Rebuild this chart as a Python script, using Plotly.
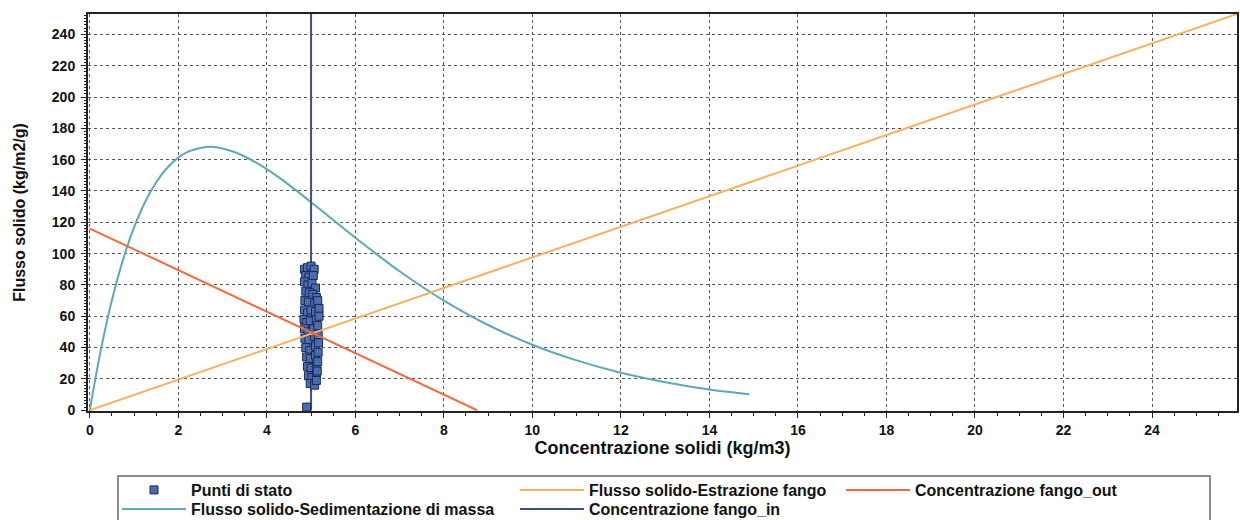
import plotly.graph_objects as go

# ---- data ----
state_c = [4.85, 4.92, 5.00, 5.07, 4.88, 4.95, 5.05, 4.85, 4.93, 5.02, 5.10, 4.88, 4.96, 5.04,
           5.12, 4.86, 4.94, 5.08, 5.15, 4.85, 4.92, 5.00, 5.10, 5.18, 4.84, 4.90, 4.98, 5.12,
           5.18, 4.85, 4.93, 5.06, 5.15, 4.86, 4.95, 5.08, 5.16, 4.88, 4.97, 5.10, 5.17, 4.90,
           4.98, 5.10, 5.16, 4.92, 5.00, 5.12, 5.15, 4.94, 5.02, 5.12, 5.14, 4.98, 5.08, 5.12, 4.90]
state_g = [90, 91, 92, 90, 86, 85, 86, 82, 80, 81, 78, 76, 75, 74,
           72, 70, 69, 68, 70, 64, 62, 64, 63, 65, 58, 56, 57, 58,
           60, 52, 50, 52, 54, 46, 45, 47, 48, 40, 38, 41, 43, 34,
           33, 35, 37, 28, 27, 29, 31, 22, 21, 23, 25, 17, 16, 19, 2]

sed_c = [0, 0.25, 0.5, 0.75, 1.0, 1.25, 1.5, 1.75, 2.0, 2.25, 2.5, 2.75, 3.0, 3.25, 3.5, 4.0,
         4.5, 5.0, 5.5, 6.0, 6.5, 7.0, 7.5, 8.0, 9.0, 10.0, 11.0, 12.0, 13.0, 14.0, 14.9]
sed_g = [0, 38.5, 70.2, 96.0, 116.7, 133.0, 145.5, 154.8, 161.3, 165.4, 167.5, 168.2, 167.1,
         165.0, 162.0, 153.9, 143.9, 132.8, 121.5, 110.1, 99.2, 88.7, 79.0, 70.0, 54.4, 41.8,
         31.8, 23.9, 17.9, 13.3, 10.2]

estr_c = [0, 25.92]
estr_g = [0, 253]

out_c = [0, 8.75]
out_g = [116, 0]

in_c = [5.0, 5.0]
in_g = [0, 253]

x_ticks = [0, 2, 4, 6, 8, 10, 12, 14, 16, 18, 20, 22, 24]
y_ticks = [0, 20, 40, 60, 80, 100, 120, 140, 160, 180, 200, 220, 240]

FONT = "Liberation Sans, Arial, sans-serif"

# plot area in pixels
L, R, T, B = 88, 1237, 14, 411
PW, PH = R - L, B - T


def px(xp):
    return (xp - L) / PW


def py(yp):
    return (B - yp) / PH


fig = go.Figure()
fig.add_trace(go.Scatter(x=sed_c, y=sed_g, mode="lines", name="Flusso solido-Sedimentazione di massa",
                         line=dict(color="#5BAAB8", width=2, shape="spline", smoothing=0.8),
                         legend="legend4"))
fig.add_trace(go.Scatter(x=in_c, y=in_g, mode="lines", name="Concentrazione fango_in",
                         line=dict(color="#3F4C8E", width=2), legend="legend5"))
fig.add_trace(go.Scatter(x=state_c, y=state_g, mode="markers", name="Punti di stato",
                         marker=dict(symbol="square", size=8, color="#4A6DB0",
                                     line=dict(color="#1C2A52", width=1)),
                         legend="legend"))
fig.add_trace(go.Scatter(x=estr_c, y=estr_g, mode="lines", name="Flusso solido-Estrazione fango",
                         line=dict(color="#F9B060", width=2), legend="legend2"))
fig.add_trace(go.Scatter(x=out_c, y=out_g, mode="lines", name="Concentrazione fango_out",
                         line=dict(color="#F26A3C", width=2), legend="legend3"))

leg_common = dict(xanchor="left", yanchor="top", orientation="v",
                  bgcolor="rgba(0,0,0,0)", itemwidth=64,
                  font=dict(family=FONT, size=16, color="#111", weight="bold"),
                  itemclick=False, borderwidth=0)

ROW1, ROW2 = 473, 492
COL1, COL2, COL3 = 117, 515, 841

fig.update_layout(
    width=1240, height=520,
    margin=dict(l=L, r=1240 - R, t=T, b=520 - B, autoexpand=False),
    paper_bgcolor="white", plot_bgcolor="white",
    font=dict(family=FONT, color="#111"),
    showlegend=True,
    legend=dict(x=px(COL1), y=py(ROW1), **leg_common),
    legend2=dict(x=px(COL2), y=py(ROW1), **leg_common),
    legend3=dict(x=px(COL3), y=py(ROW1), **leg_common),
    legend4=dict(x=px(COL1), y=py(ROW2), **leg_common),
    legend5=dict(x=px(COL2), y=py(ROW2), **leg_common),
    xaxis=dict(
        range=[-0.04, 25.92], tickvals=x_ticks, ticktext=[str(v) for v in x_ticks],
        showgrid=True, gridcolor="#555", griddash="dot", gridwidth=1,
        zeroline=False, showline=True, linecolor="#222", linewidth=2, mirror=True,
        ticks="outside", ticklen=5, tickcolor="#222",
        minor=dict(dtick=0.5, ticks="outside", ticklen=3, tickcolor="#222", showgrid=False),
        tickfont=dict(family=FONT, size=14, color="#111", weight="bold"),
        title=dict(text="Concentrazione solidi (kg/m3)", standoff=5,
                   font=dict(family=FONT, size=18, color="#111", weight="bold")),
    ),
    yaxis=dict(
        range=[-0.5, 253], tickvals=y_ticks, ticktext=[str(v) for v in y_ticks],
        showgrid=True, gridcolor="#555", griddash="dot", gridwidth=1,
        zeroline=False, showline=True, linecolor="#222", linewidth=2, mirror=True,
        ticks="outside", ticklen=5, tickcolor="#222", ticklabelstandoff=3,
        minor=dict(dtick=2, ticks="outside", ticklen=2, tickcolor="#222", showgrid=False),
        tickfont=dict(family=FONT, size=14, color="#111", weight="bold"),
        title=dict(text="Flusso solido (kg/m2/g)", standoff=22,
                   font=dict(family=FONT, size=16, color="#111", weight="bold")),
    ),
    shapes=[dict(type="rect", xref="paper", yref="paper",
                 x0=px(118), x1=px(1210), y0=py(540), y1=py(476),
                 line=dict(color="#666", width=1.5), fillcolor="rgba(0,0,0,0)", layer="below")],
)

fig.write_html("out.html", config={"displayModeBar": False},
               post_script="document.body.style.margin='0px';")
